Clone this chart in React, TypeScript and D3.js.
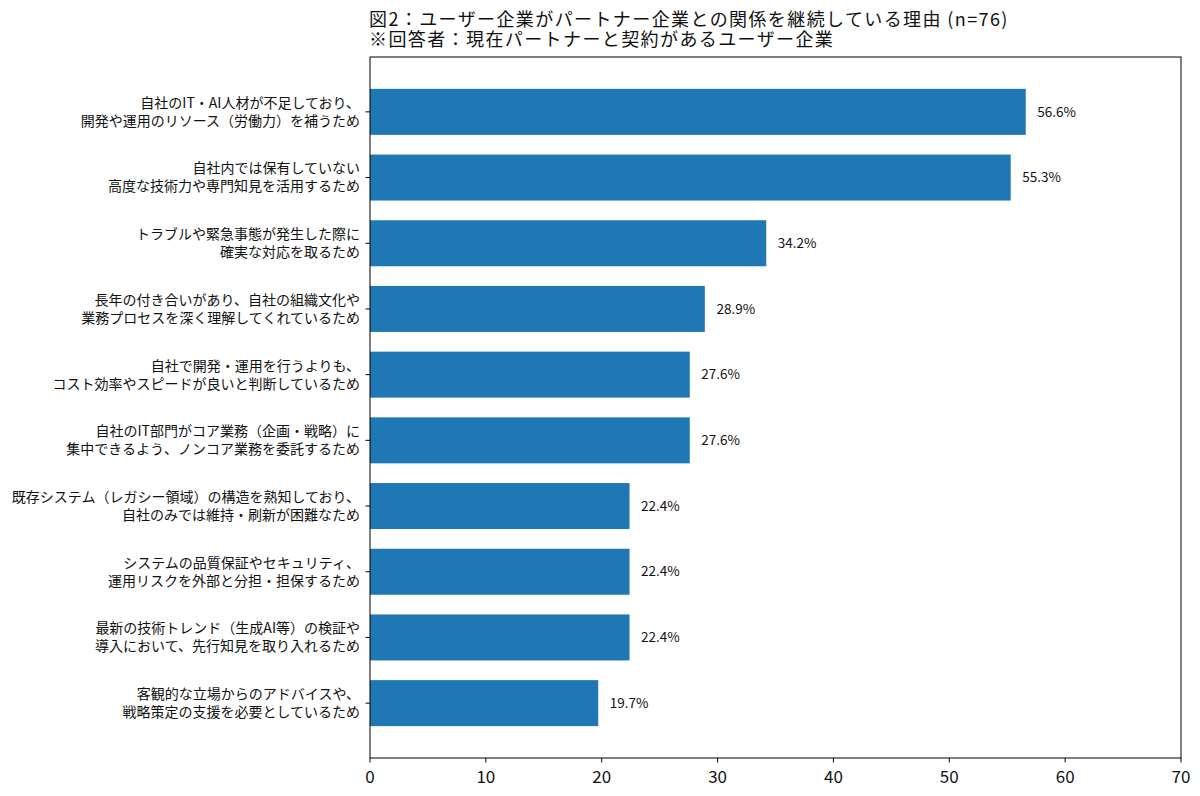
import React from "react";
import * as d3 from "d3";

const titleLines: string[] = [
  "図2：ユーザー企業がパートナー企業との関係を継続している理由 (n=76)",
  "※回答者：現在パートナーと契約があるユーザー企業",
];

const categories: string[][] = [
  ["自社のIT・AI人材が不足しており、", "開発や運用のリソース（労働力）を補うため"],
  ["自社内では保有していない", "高度な技術力や専門知見を活用するため"],
  ["トラブルや緊急事態が発生した際に", "確実な対応を取るため"],
  ["長年の付き合いがあり、自社の組織文化や", "業務プロセスを深く理解してくれているため"],
  ["自社で開発・運用を行うよりも、", "コスト効率やスピードが良いと判断しているため"],
  ["自社のIT部門がコア業務（企画・戦略）に", "集中できるよう、ノンコア業務を委託するため"],
  ["既存システム（レガシー領域）の構造を熟知しており、", "自社のみでは維持・刷新が困難なため"],
  ["システムの品質保証やセキュリティ、", "運用リスクを外部と分担・担保するため"],
  ["最新の技術トレンド（生成AI等）の検証や", "導入において、先行知見を取り入れるため"],
  ["客観的な立場からのアドバイスや、", "戦略策定の支援を必要としているため"],
];

const values: number[] = [56.6, 55.3, 34.2, 28.9, 27.6, 27.6, 22.4, 22.4, 22.4, 19.7];

const xTicks: number[] = [0, 10, 20, 30, 40, 50, 60, 70];

const W = 1200;
const H = 796;
const left = 370;
const right = 1181;
const top = 57;
const bottom = 758;
const FONT = '"Noto Sans CJK JP", "Noto Sans", sans-serif';
const BAR = "#1f77b4";

export default function App() {
  const x = d3.scaleLinear().domain([0, 70]).range([left, right]);
  const n = values.length;
  const y = d3.scaleLinear().domain([-0.835, n - 1 + 0.835]).range([top, bottom]);
  const barH = y(0.35) - y(-0.35);

  return (
    <svg
      width={W}
      height={H}
      viewBox={`0 0 ${W} ${H}`}
      style={{ position: "fixed", left: 0, top: 0, background: "#fff" }}
      fontFamily={FONT}
    >
      <rect x={0} y={0} width={W} height={H} fill="#fff" />
      <text x={369} y={19.5} fontSize={18} letterSpacing={1.4} fill="#111">
        {titleLines.map((t, i) => (
          <tspan key={i} x={369} y={19.5 + i * 20.5} dy="0.35em">
            {t}
          </tspan>
        ))}
      </text>
      {values.map((v, i) => (
        <g key={i}>
          <rect x={x(0)} y={y(i) - barH / 2} width={x(v) - x(0)} height={barH} fill={BAR} />
          <text x={x(v + 1)} y={y(i)} dy="0.35em" fontSize={13.5} fill="#111">
            {v.toFixed(1)}%
          </text>
          <line x1={left - 4.5} x2={left} y1={y(i)} y2={y(i)} stroke="#000" strokeWidth={1} />
          {categories[i].map((line, j) => (
            <text
              key={j}
              x={left - 10}
              y={y(i) + (j - 0.5) * 18}
              dy="0.35em"
              textAnchor="end"
              fontSize={14}
              fill="#111"
            >
              {line}
            </text>
          ))}
        </g>
      ))}
      <rect
        x={left}
        y={top}
        width={right - left}
        height={bottom - top}
        fill="none"
        stroke="#000"
        strokeWidth={1}
      />
      {xTicks.map((t) => (
        <g key={t}>
          <line x1={x(t)} x2={x(t)} y1={bottom} y2={bottom + 4.5} stroke="#000" strokeWidth={1} />
          <text x={x(t)} y={bottom + 19} dy="0.35em" textAnchor="middle" fontSize={17} fill="#111">
            {t}
          </text>
        </g>
      ))}
    </svg>
  );
}
